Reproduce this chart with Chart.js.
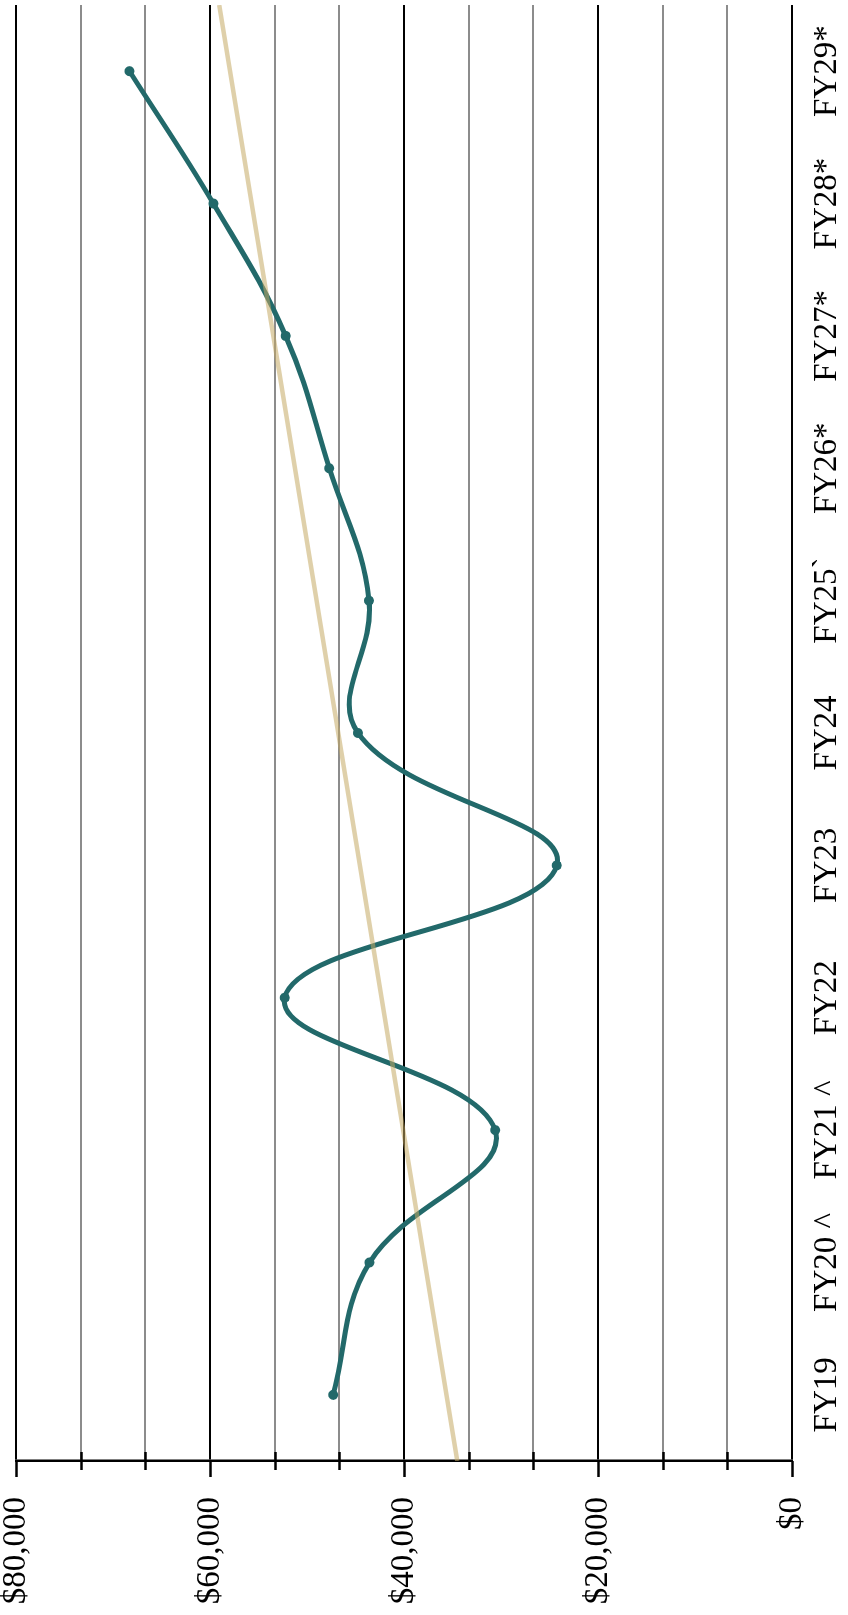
<!DOCTYPE html>
<html>
<head>
<meta charset="utf-8">
<script src="https://cdn.jsdelivr.net/npm/chart.js@4/dist/chart.umd.min.js"></script>
<style>
  html, body { margin: 0; padding: 0; background: #ffffff; }
  body { width: 848px; height: 1615px; overflow: hidden; position: relative; }
  /* the chart is laid out landscape and turned a quarter turn so it reads sideways */
  #frame {
    position: absolute; left: 0; top: 0;
    width: 1615px; height: 848px;
    transform-origin: 0 0;
    transform: translateY(1615px) rotate(-90deg);
    background: #ffffff;
  }
  canvas { display: block; }
</style>
</head>
<body>
<div id="frame"><canvas id="chart" width="1615" height="848"></canvas></div>
<script>
// Fiscal years (asterisk = projected)
const categories = ['FY19', 'FY20 ^', 'FY21 ^', 'FY22', 'FY23', 'FY24', 'FY25`', 'FY26*', 'FY27*', 'FY28*', 'FY29*'];
// Amount per fiscal year, in dollars
const amounts = [47300, 43550, 30600, 52300, 24250, 44750, 43600, 47700, 52200, 59650, 68300];
// Trend line, taken at the two edges of the year axis
const trendX = [-0.5, 10.5];
const trendY = [34500, 59050];
// Value axis: labelled every $20,000, with two unlabelled lines between
const yTickLabels = ['$0', '$20,000', '$40,000', '$60,000', '$80,000'];
const yMax = 80000;
const yMajorStep = 20000;
const yMinorPerMajor = 3;

const TEAL = '#22696a';
const FONT = '"Liberation Serif", "Times New Roman", serif';

// Short tick marks on the value axis: long outward ones for labelled values,
// short ones straddling the axis for the in-between lines.
const axisTicks = {
  id: 'axisTicks',
  afterDraw(chart) {
    const y = chart.scales.y;
    const ctx = chart.ctx;
    const left = chart.chartArea.left;
    ctx.save();
    ctx.strokeStyle = '#000000';
    ctx.lineWidth = 2.5;
    y.ticks.forEach((t, i) => {
      const p = Math.round(y.getPixelForValue(t.value)) + 0.5;
      ctx.beginPath();
      if (i % yMinorPerMajor === 0) {
        ctx.moveTo(left, p);
        ctx.lineTo(left - 16, p);
      } else {
        ctx.moveTo(left + 9, p);
        ctx.lineTo(left - 9, p);
      }
      ctx.stroke();
    });
    ctx.restore();
  }
};

new Chart(document.getElementById('chart'), {
  type: 'line',
  data: {
    datasets: [
      {
        label: 'Trend',
        data: trendX.map((x, i) => ({ x, y: trendY[i] })),
        borderColor: 'rgba(196, 170, 100, 0.55)',
        borderWidth: 4.5,
        pointRadius: 0,
        tension: 0
      },
      {
        label: 'Amount',
        data: amounts.map((v, i) => ({ x: i, y: v })),
        borderColor: TEAL,
        backgroundColor: TEAL,
        borderWidth: 5,
        pointRadius: 5,
        pointBackgroundColor: TEAL,
        pointBorderWidth: 0,
        tension: 0.4
      }
    ]
  },
  options: {
    responsive: false,
    animation: false,
    events: [],
    layout: { padding: { top: 16, right: 0, left: 0, bottom: 0 } },
    plugins: { legend: { display: false }, tooltip: { enabled: false } },
    scales: {
      x: {
        type: 'linear',
        min: -0.5,
        max: categories.length - 0.5,
        afterBuildTicks(scale) {
          scale.ticks = categories.map((_, i) => ({ value: i }));
        },
        afterFit(scale) {
          scale.height = 56;
          scale.paddingLeft = 0;
          scale.paddingRight = 0;
        },
        grid: { display: false, drawTicks: false },
        border: { display: false },
        ticks: {
          autoSkip: false,
          maxRotation: 0,
          padding: 16,
          color: '#000000',
          font: { family: FONT, size: 33 },
          callback: (v) => categories[v] ?? ''
        }
      },
      y: {
        type: 'linear',
        min: 0,
        max: yMax,
        afterBuildTicks(scale) {
          const n = (yMax / yMajorStep) * yMinorPerMajor;
          const ticks = [];
          for (let k = 0; k <= n; k++) ticks.push({ value: (k * yMajorStep) / yMinorPerMajor });
          scale.ticks = ticks;
        },
        afterFit(scale) {
          scale.width = 154;
          scale.paddingTop = 0;
          scale.paddingBottom = 0;
        },
        grid: {
          drawTicks: false,
          lineWidth: 2,
          color: (c) => (c.index % yMinorPerMajor === 0 ? '#000000' : '#8c8c8c')
        },
        border: { display: true, color: '#000000', width: 2.5 },
        ticks: {
          autoSkip: false,
          padding: 36,
          color: '#000000',
          font: { family: FONT, size: 33 },
          callback: (v, i) => (i % yMinorPerMajor === 0 ? yTickLabels[i / yMinorPerMajor] : '')
        }
      }
    }
  },
  plugins: [axisTicks]
});
</script>
</body>
</html>
